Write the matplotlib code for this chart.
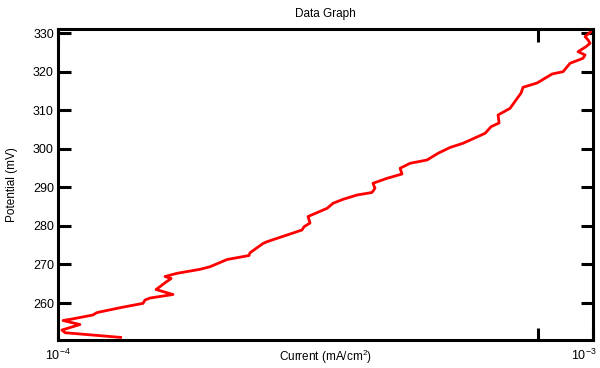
import matplotlib
matplotlib.use("Agg")
import matplotlib.pyplot as plt
from matplotlib.ticker import FixedLocator, NullLocator
from matplotlib.transforms import ScaledTranslation

plt.rcParams['font.family'] = ['Liberation Sans', 'DejaVu Sans']
plt.rcParams['mathtext.fontset'] = 'custom'
plt.rcParams['mathtext.rm'] = 'Liberation Sans'
plt.rcParams['mathtext.it'] = 'Liberation Sans:italic'

# current in units of 1e-4 mA/cm2
current_e4 = [1.317, 1.031, 1.017, 1.099, 1.022, 1.062, 1.162, 1.178, 1.188, 1.317,
              1.442, 1.454, 1.486, 1.640, 1.525, 1.592, 1.627, 1.585, 1.669, 1.843,
              1.924, 2.070, 2.275, 2.285, 2.416, 2.458, 2.858, 2.883, 2.958, 2.933,
              3.184, 3.266, 3.410, 3.622, 3.862, 3.912, 3.879, 4.120, 4.396, 4.358,
              4.550, 4.894, 5.131, 5.403, 5.714, 6.284, 6.448, 6.674, 6.645, 6.997,
              7.336, 7.399, 7.861, 8.384, 8.790, 9.058, 9.579, 9.662, 9.375, 9.703,
              9.872, 9.787, 9.662, 9.936]
potential = [251.05, 252.29, 252.99, 254.42, 255.46, 255.85, 256.89, 257.40, 257.59, 258.88,
             259.92, 260.78, 261.30, 262.21, 263.50, 265.45, 266.36, 266.88, 267.71, 268.75,
             269.42, 271.29, 272.33, 273.05, 275.44, 275.91, 278.95, 279.80, 280.76, 282.45,
             284.58, 285.88, 286.91, 288.03, 288.68, 289.77, 291.07, 292.36, 293.48, 294.96,
             296.26, 297.11, 298.85, 300.36, 301.45, 304.04, 305.76, 306.72, 308.79, 310.53,
             314.50, 315.98, 317.10, 319.43, 320.03, 322.21, 323.51, 324.37, 325.22, 326.52,
             327.40, 328.26, 329.12, 330.59]

y_ticks = [260, 270, 280, 290, 300, 310, 320, 330]
x_ticks = [1e-4, 7.9e-4, 1e-3]
x_labels = [r'$\mathdefault{10^{-4}}$', '', r'$\mathdefault{10^{-3}}$']

current = [c * 1e-4 for c in current_e4]

fig = plt.figure(figsize=(6, 3.68), dpi=100)
ax = fig.add_axes([0.0967, 0.0774, 0.8917, 0.843])

ax.plot(current, potential, color='#ff0000', linewidth=2.0,
        solid_joinstyle='round', solid_capstyle='butt')

ax.set_xscale('log')
ax.set_xlim(1e-4, 1e-3)
ax.set_ylim(250.53, 331.03)

ax.xaxis.set_major_locator(FixedLocator(x_ticks))
ax.set_xticklabels(x_labels)
ax.xaxis.set_minor_locator(NullLocator())
ax.set_yticks(y_ticks)

for s in ax.spines.values():
    s.set_linewidth(2.2)

ax.tick_params(axis='both', direction='in', length=9, width=2.2, labelsize=9,
               top=True, right=True)
ax.tick_params(axis='x', pad=6)
ax.tick_params(axis='y', pad=3)

# keep the 10^-3 label inside the figure, like the original
lbls = ax.get_xticklabels()
lbls[2].set_horizontalalignment('right')
lbls[2].set_transform(lbls[2].get_transform() + ScaledTranslation(4 / 100, 0, fig.dpi_scale_trans))

ax.set_title('Data Graph', fontsize=8.5, pad=9)
ax.set_xlabel('Current (mA/cm$^2$)', fontsize=8.5, va='center')
ax.xaxis.set_label_coords(0.5, -0.057)
ax.set_ylabel('Potential (mV)', fontsize=8.5, va='center')
ax.yaxis.set_label_coords(-0.086, 0.5)

fig.savefig('out.png', dpi=100)
